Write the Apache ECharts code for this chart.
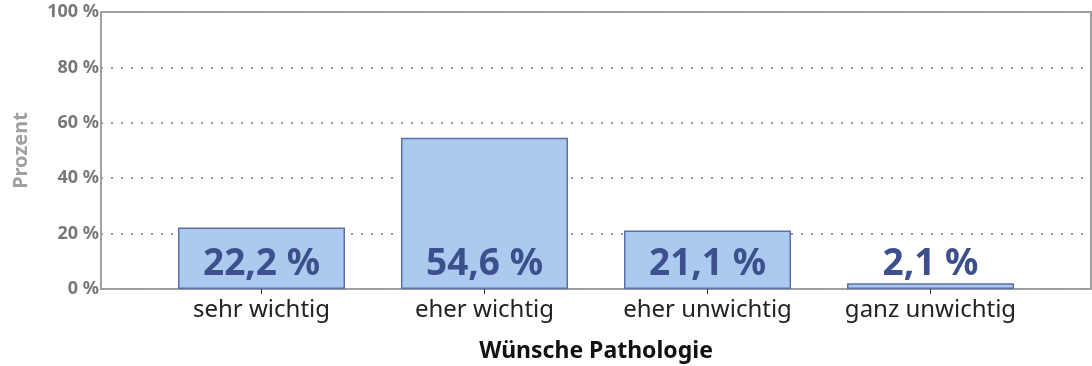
<!DOCTYPE html>
<html>
<head>
<meta charset="utf-8">
<style>
  html, body { margin: 0; padding: 0; background: #ffffff; }
  #chart { width: 1092px; height: 366px; }
</style>
<script src="https://cdn.jsdelivr.net/npm/echarts@6/dist/echarts.min.js"></script>
</head>
<body>
<div id="chart"></div>
<script>
// Survey answers: importance of the pathology wishes
const categories = ['sehr wichtig', 'eher wichtig', 'eher unwichtig', 'ganz unwichtig'];
const shares = [22.2, 54.6, 21.1, 2.1];
const yTicks = [0, 20, 40, 60, 80, 100];

const FONT = '"Noto Sans", "Open Sans", sans-serif';
const fmtPct = v => v.toFixed(1).replace('.', ',') + ' %';

const chart = echarts.init(document.getElementById('chart'), null, { renderer: 'canvas' });

chart.setOption({
  animation: false,
  textStyle: { fontFamily: FONT },
  grid: [
    // framed plot area carrying the percent scale
    { left: 101, right: 1, top: 12, bottom: 77, outerBoundsMode: 'none', containLabel: false,
      show: true, borderColor: '#a0a0a0', borderWidth: 2, backgroundColor: 'transparent' },
    // inset band for the category bars
    { left: 150, width: 892, top: 12, bottom: 77, outerBoundsMode: 'none', containLabel: false }
  ],
  xAxis: [
    { gridIndex: 0, type: 'value', min: 0, max: 1, show: false },
    {
      gridIndex: 1,
      type: 'category',
      data: categories,
      axisLine: { show: false },
      axisTick: { show: true, alignWithLabel: true, length: 5, lineStyle: { color: '#333', width: 1 } },
      axisLabel: { margin: 9, fontSize: 24, color: '#222', fontFamily: FONT },
      name: 'Wünsche Pathologie',
      nameLocation: 'middle',
      nameGap: 51,
      nameTextStyle: { fontSize: 23, fontWeight: 'bold', color: '#111', fontFamily: FONT }
    }
  ],
  yAxis: [
    {
      gridIndex: 0,
      type: 'value',
      min: yTicks[0],
      max: yTicks[yTicks.length - 1],
      interval: 20,
      axisLine: { show: true, lineStyle: { color: '#a0a0a0', width: 2 } },
      axisTick: { show: false },
      axisLabel: { margin: 2, fontSize: 18, fontWeight: 'bold', color: '#777', fontFamily: FONT, formatter: v => v + ' %' },
      splitLine: { show: true, lineStyle: { type: [2, 8], color: '#9a9a9a', width: 2 } },
      name: 'Prozent',
      nameLocation: 'middle',
      nameGap: 70,
      nameTextStyle: { fontSize: 20, fontWeight: 'bold', color: '#a0a0a0', fontFamily: FONT }
    },
    { gridIndex: 1, type: 'value', min: 0, max: 100, show: false }
  ],
  series: [
    {
      type: 'bar',
      xAxisIndex: 1,
      yAxisIndex: 1,
      data: shares,
      barWidth: 167,
      itemStyle: { color: '#abcaee', borderColor: '#5b6fa8', borderWidth: 1.5 },
      label: {
        show: true,
        position: 'insideBottom',
        distance: 6,
        fontSize: 37,
        fontWeight: 'bold',
        color: '#3d4f8c',
        fontFamily: FONT,
        formatter: p => fmtPct(p.value)
      }
    }
  ]
});
</script>
</body>
</html>
